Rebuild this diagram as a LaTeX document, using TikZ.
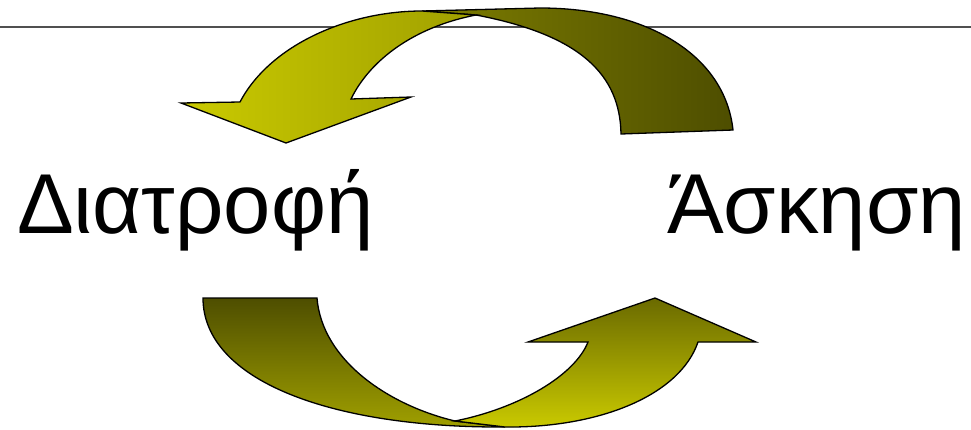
\documentclass[tikz,border=0pt]{standalone}
\usepackage{fontspec}
\setmainfont{Liberation Sans}
\definecolor{yBright}{RGB}{202,202,0}
\definecolor{yMid}{RGB}{160,160,0}
\definecolor{oMid}{RGB}{125,125,0}
\definecolor{oDark}{RGB}{78,78,0}
\definecolor{rule}{RGB}{80,80,80}
\tikzset{
  arrowpart/.style={draw=black, line width=1.3pt, line join=miter},
  label/.style={inner sep=0pt, font=\fontsize{85}{85}\selectfont},
}
\begin{document}
\begin{tikzpicture}[x={(1pt,0)}, y={(0,-1pt)}]
\useasboundingbox (0,0) rectangle (971,429);
\coordinate (ruleL) at (0,27);
\coordinate (ruleR) at (971,27);
\draw[rule, line width=2.2pt] (ruleL) -- (ruleR);

% top arrow: back (dark) part
\shade[arrowpart, left color=oMid, right color=oDark]
  (422,11) -- (540,8) .. controls (647,8) and (725,55) .. (733,130)
  -- (621,134) .. controls (620,75) and (581,35) .. (476,15) -- cycle;
% top arrow: front (yellow) part with head
\shade[arrowpart, left color=yBright, right color=yMid]
  (422,11) .. controls (348,11) and (270,45) .. (240,102)
  -- (181,103) -- (286,143) -- (411,97) -- (351,99)
  .. controls (370,60) and (414,27) .. (476,15) -- cycle;

% bottom arrow: back (dark) part
\shade[arrowpart, top color=oDark, bottom color=yMid]
  (203,298) -- (317,298) .. controls (322,360) and (388,405) .. (455,421)
  -- (505,427) .. controls (330,428) and (203,380) .. (203,298) -- cycle;
% bottom arrow: front (yellow) part with head
\shade[arrowpart, top color=oMid!85!black, bottom color=yBright]
  (455,421) .. controls (520,408) and (575,375) .. (588,342)
  -- (528,342) -- (655,298) -- (756,342) -- (698,342)
  .. controls (680,395) and (600,428) .. (505,427) -- cycle;

\node[label, anchor=base west] (diatrofi) at (17,233) {Διατροφή};
\node[label, anchor=base east] (askisi) at (966,233) {Άσκηση};
\end{tikzpicture}
\end{document}
